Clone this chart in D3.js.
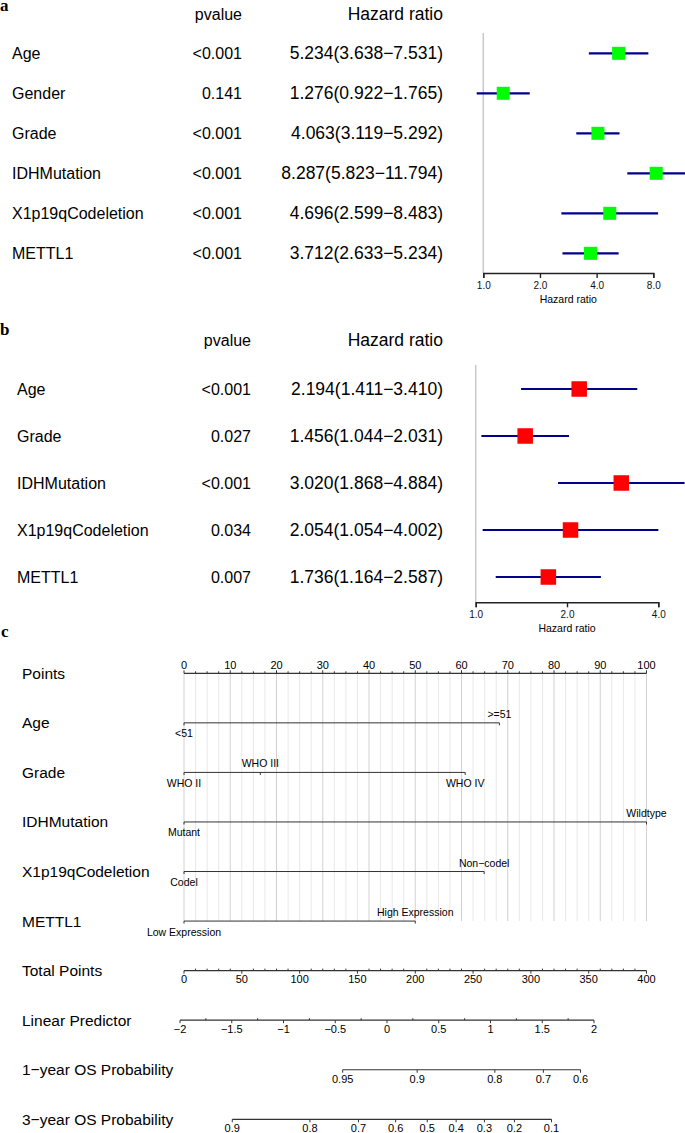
<!DOCTYPE html>
<html><head><meta charset="utf-8">
<script src="https://cdn.jsdelivr.net/npm/d3@7"></script>
<style>
html,body{margin:0;padding:0;background:#fff;}
svg{display:block;font-family:"Liberation Sans",Arial,Helvetica,sans-serif;}
</style></head>
<body><svg id="chart" width="685" height="1133"></svg>
<script>
// ---------- Panel a: univariate Cox ----------
const uniVars = ["Age","Gender","Grade","IDHMutation","X1p19qCodeletion","METTL1"];
const uniP    = ["<0.001","0.141","<0.001","<0.001","<0.001","<0.001"];
const uniHR   = [5.234,1.276,4.063,8.287,4.696,3.712];
const uniLow  = [3.638,0.922,3.119,5.823,2.599,2.633];
const uniHigh = [7.531,1.765,5.292,11.794,8.483,5.234];
const uniTicks = [1,2,4,8];

// ---------- Panel b: multivariate Cox ----------
const multiVars = ["Age","Grade","IDHMutation","X1p19qCodeletion","METTL1"];
const multiP    = ["<0.001","0.027","<0.001","0.034","0.007"];
const multiHR   = [2.194,1.456,3.020,2.054,1.736];
const multiLow  = [1.411,1.044,1.868,1.054,1.164];
const multiHigh = [3.410,2.031,4.884,4.002,2.587];
const multiTicks = [1,2,4];

// ---------- Panel c: nomogram ----------
const nomoVars = ["Age","Grade","IDHMutation","X1p19qCodeletion","METTL1"];
const nomoLevels = [["<51",">=51"],["WHO II","WHO III","WHO IV"],["Mutant","Wildtype"],["Codel","Non\u2212codel"],["Low Expression","High Expression"]];
const nomoPoints = [[0,68.2],[0,16.5,60.8],[0,100],[0,64.9],[0,50]];
const pointsTicks = d3.range(0,101,10);
const totalTicks = d3.range(0,401,50);
const lpTicks = d3.range(-2,2.01,0.5);
const os1Ticks = [0.95,0.9,0.8,0.7,0.6];
const os3Ticks = [0.9,0.8,0.7,0.6,0.5,0.4,0.3,0.2,0.1];
const baseSurv1 = 0.9243;   // baseline survival implied by the 1-year axis
const baseSurv3 = 0.6251;   // baseline survival implied by the 3-year axis

const svg = d3.select("#chart");
svg.append("rect").attr("width",685).attr("height",1133).attr("fill","#fff");

const fmt3 = d3.format(".3f");
const hrText = (h,l,u) => `${fmt3(h)}(${fmt3(l)}\u2212${fmt3(u)})`;

function forest(opt){
  const g = svg.append("g");
  g.append("text").text(opt.letter).attr("x",0).attr("y",opt.letterY)
    .attr("font-family","'Liberation Serif','Times New Roman',serif").attr("font-weight","bold").attr("font-size",17);
  const fs = 16, fsHR = 17.5;
  g.append("text").text("pvalue").attr("x",opt.pRight).attr("y",opt.headY).attr("text-anchor","end").attr("font-size",fs);
  g.append("text").text("Hazard ratio").attr("x",opt.hrRight).attr("y",opt.headY).attr("text-anchor","end").attr("font-size",fsHR);
  const y = d3.scalePoint().domain(opt.vars).range([opt.y0, opt.y0+opt.step*(opt.vars.length-1)]);
  const x = d3.scaleLog().base(2).domain([opt.ticks[0], opt.ticks[opt.ticks.length-1]]).range(opt.xRange);
  opt.vars.forEach((v,i)=>{
    const cy = y(v);
    g.append("text").text(v).attr("x",opt.labelX).attr("y",cy+5.7).attr("font-size",fs);
    g.append("text").text(opt.p[i]).attr("x",opt.pRight).attr("y",cy+5.7).attr("text-anchor","end").attr("font-size",fs);
    g.append("text").text(hrText(opt.hr[i],opt.lo[i],opt.hi[i])).attr("x",opt.hrRight).attr("y",cy+6).attr("text-anchor","end").attr("font-size",fsHR);
  });
  // reference line
  g.append("line").attr("x1",x(1)).attr("x2",x(1)).attr("y1",opt.refTop).attr("y2",opt.axisY)
    .attr("stroke","#c8c8c8").attr("stroke-width",1.5);
  // CIs
  g.selectAll(".ci").data(opt.vars).join("line")
    .attr("x1",(d,i)=>x(opt.lo[i])).attr("x2",(d,i)=>x(opt.hi[i]))
    .attr("y1",d=>y(d)).attr("y2",d=>y(d))
    .attr("stroke","#00008B").attr("stroke-width",2.2);
  const s = opt.sq;
  g.selectAll(".sq").data(opt.vars).join("rect")
    .attr("x",(d,i)=>x(opt.hr[i])-s/2).attr("y",d=>y(d)-s/2)
    .attr("width",s).attr("height",s).attr("fill",opt.color);
  // axis
  const ax = g.append("g").attr("transform",`translate(0,${opt.axisY})`)
    .call(d3.axisBottom(x).tickValues(opt.ticks).tickFormat(d3.format(".1f")).tickSizeOuter(0).tickSize(5).tickPadding(4));
  ax.select(".domain").attr("stroke","#222").attr("stroke-width",1.4);
  ax.selectAll(".tick line").attr("stroke","#222").attr("stroke-width",1.4);
  ax.selectAll(".tick text").attr("font-size",10).attr("font-family","'Liberation Sans',Arial,sans-serif").attr("fill","#111");
  g.append("text").text("Hazard ratio").attr("x",(opt.xRange[0]+opt.xRange[1])/2).attr("y",opt.axisY+30)
    .attr("text-anchor","middle").attr("font-size",10.5);
}

forest({letter:"a",letterY:11,headY:20,pRight:242,hrRight:443,labelX:12,
  vars:uniVars,p:uniP,hr:uniHR,lo:uniLow,hi:uniHigh,ticks:uniTicks,
  y0:53.3,step:40,xRange:[483.3,653.3],axisY:273,refTop:33,sq:13,color:"#00FF00"});
forest({letter:"b",letterY:335,headY:346,pRight:251,hrRight:443,labelX:17,
  vars:multiVars,p:multiP,hr:multiHR,lo:multiLow,hi:multiHigh,ticks:multiTicks,
  y0:389,step:47,xRange:[475.7,658.3],axisY:602.3,refTop:365,sq:15.5,color:"#FF0000"});

// ---------- Nomogram ----------
const gc = svg.append("g");
gc.append("text").text("c").attr("x",1).attr("y",637)
  .attr("font-family","'Liberation Serif','Times New Roman',serif").attr("font-weight","bold").attr("font-size",17);

const rowNames = ["Points",...nomoVars,"Total Points","Linear Predictor","1\u2212year OS Probability","3\u2212year OS Probability"];
const rowY = d3.scalePoint().domain(rowNames).range([673.3, 1119.3]);
const ptsX = d3.scaleLinear().domain([0,100]).range([184,646.5]);
const totX = d3.scaleLinear().domain([0,400]).range([184,646.5]);
const lpX  = d3.scaleLinear().domain([-2,2]).range([180,594]);
const cloglog = s => Math.log(-Math.log(s));
const os1X = s => lpX(cloglog(s) - cloglog(baseSurv1));
const os3X = s => lpX(cloglog(s) - cloglog(baseSurv3));

rowNames.forEach(n=>{
  gc.append("text").text(n).attr("x",22).attr("y",rowY(n)+5.5).attr("font-size",15.5);
});

// grid lines
const gridVals = d3.range(0,100.01,2.5);
gc.selectAll(".grid").data(gridVals).join("line")
  .attr("x1",d=>ptsX(d)).attr("x2",d=>ptsX(d))
  .attr("y1",rowY("Points")).attr("y2",rowY("METTL1"))
  .attr("stroke",d=>d%10===0?"#d2d2d2":"#e8e8e8").attr("stroke-width",1);

const axCol = "#333";
// Points axis (labels above)
{
  const yy = rowY("Points");
  gc.append("line").attr("x1",ptsX(0)).attr("x2",ptsX(100)).attr("y1",yy).attr("y2",yy).attr("stroke",axCol).attr("stroke-width",1.2);
  gc.selectAll(".pminor").data(d3.range(0,100.01,2.5)).join("line")
    .attr("x1",d=>ptsX(d)).attr("x2",d=>ptsX(d)).attr("y1",yy).attr("y2",d=>d%10===0?yy-3:yy-2)
    .attr("stroke",axCol).attr("stroke-width",1);
  gc.selectAll(".plab").data(pointsTicks).join("text")
    .attr("x",d=>ptsX(d)).attr("y",yy-4.5).attr("text-anchor","middle").attr("font-size",11).text(d=>d);
}
// variable rows
nomoVars.forEach((v,i)=>{
  const yy = rowY(v);
  const pts = nomoPoints[i];
  gc.append("line").attr("x1",ptsX(d3.min(pts))).attr("x2",ptsX(d3.max(pts))).attr("y1",yy).attr("y2",yy)
    .attr("stroke",axCol).attr("stroke-width",1);
  pts.forEach((p,j)=>{
    gc.append("line").attr("x1",ptsX(p)).attr("x2",ptsX(p)).attr("y1",yy).attr("y2",yy+2.5).attr("stroke",axCol).attr("stroke-width",1);
    const above = j%2===1;
    gc.append("text").text(nomoLevels[i][j]).attr("x",ptsX(p)).attr("y",above?yy-5:yy+14.5)
      .attr("text-anchor","middle").attr("font-size",10.5);
  });
});

// generic lower axis (labels below)
function lowerAxis(name, scale, majors, minors, fmt){
  const yy = rowY(name);
  const ext = d3.extent(majors.map(scale));
  gc.append("line").attr("x1",ext[0]).attr("x2",ext[1]).attr("y1",yy).attr("y2",yy).attr("stroke",axCol).attr("stroke-width",1.2);
  gc.selectAll(null).data(minors).join("line")
    .attr("x1",d=>scale(d)).attr("x2",d=>scale(d)).attr("y1",yy).attr("y2",yy-2).attr("stroke",axCol).attr("stroke-width",1);
  gc.selectAll(null).data(majors).join("line")
    .attr("x1",d=>scale(d)).attr("x2",d=>scale(d)).attr("y1",yy).attr("y2",yy+3).attr("stroke",axCol).attr("stroke-width",1);
  gc.selectAll(null).data(majors).join("text")
    .attr("x",d=>scale(d)).attr("y",yy+12.8).attr("text-anchor","middle").attr("font-size",11).text(fmt);
}
lowerAxis("Total Points", totX, totalTicks, d3.range(0,401,10).filter(d=>d%50!==0), d=>d);
lowerAxis("Linear Predictor", lpX, lpTicks, d3.range(-1.75,2,0.5), d3.format("~g"));
lowerAxis("1\u2212year OS Probability", os1X, os1Ticks, [], d=>d);
lowerAxis("3\u2212year OS Probability", os3X, os3Ticks, [], d=>d);
</script></body></html>
